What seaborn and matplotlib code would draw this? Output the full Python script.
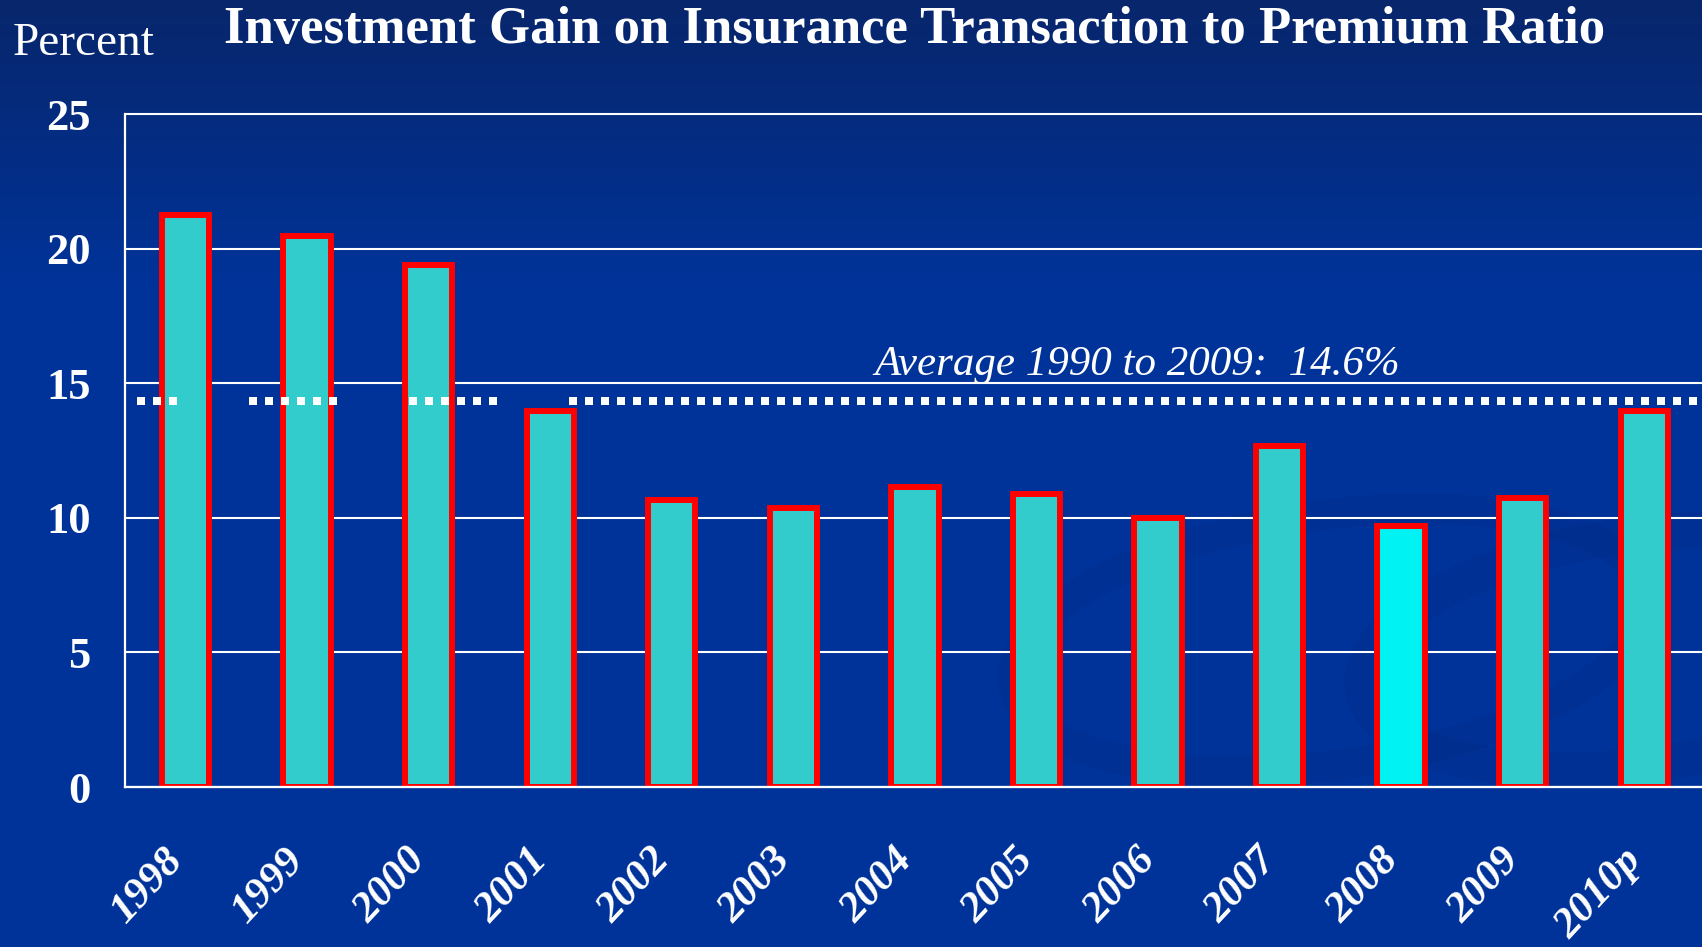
import numpy as np
import pandas as pd
import matplotlib
matplotlib.use("Agg")
import matplotlib.pyplot as plt
import matplotlib.transforms as mtransforms
from matplotlib.patches import Ellipse
import seaborn as sns

# data
years = ["1998", "1999", "2000", "2001", "2002", "2003", "2004",
         "2005", "2006", "2007", "2008", "2009", "2010p"]
ratios = [21.25, 20.45, 19.4, 13.95, 10.65, 10.35, 11.15,
          10.87, 9.98, 12.65, 9.68, 10.72, 13.97]
highlight_year = "2008"
avg_value = 14.35
avg_label = "Average 1990 to 2009:  14.6%"
y_ticks = [0, 5, 10, 15, 20, 25]

title = "Investment Gain on Insurance Transaction to Premium Ratio"

bar_color = "#33CCCC"
highlight_color = "#00F2F2"
bg_color = "#003399"

sns.set_style("white")
plt.rcParams["font.family"] = ["Liberation Serif", "DejaVu Serif"]

W, H = 1702, 947
fig = plt.figure(figsize=(W / 100, H / 100), dpi=100)
fig.patch.set_facecolor(bg_color)

# background gradient (darker at the top) plus faint swooshes
bg = fig.add_axes([0, 0, 1, 1], zorder=-10)
top = np.array([0.03, 0.15, 0.42])
mid = np.array([0.0, 0.20, 0.60])
t = np.clip(np.linspace(0, 1, 300) / 0.3, 0, 1)[:, None]
grad = (top * (1 - t) + mid * t)[:, None, :]
bg.imshow(grad, aspect="auto", extent=[0, W, 0, H])
swoosh = "#002c86"
bg.add_patch(Ellipse((1330, H - 640), 640, 250, angle=8, fill=False,
                     edgecolor=swoosh, linewidth=22, alpha=0.3))
bg.add_patch(Ellipse((1640, H - 650), 560, 230, angle=8, fill=False,
                     edgecolor=swoosh, linewidth=26, alpha=0.3))
bg.set_xlim(0, W)
bg.set_ylim(0, H)
bg.set_axis_off()

ax = fig.add_axes([124.8 / W, 160 / H, (1705 - 124.8) / W, 673 / H])
ax.set_facecolor("none")

df = pd.DataFrame({"Year": years, "Ratio": ratios})
palette = {y: (highlight_color if y == highlight_year else bar_color) for y in years}
sns.barplot(data=df, x="Year", y="Ratio", hue="Year", palette=palette,
            legend=False, width=0.39, edgecolor="#FF0000", linewidth=4.3,
            saturation=1, ax=ax, zorder=3)

ax.set_xlim(-0.5, 12.5)
ax.set_ylim(0, 25)
ax.set_yticks(y_ticks)
ax.set_xlabel("")
ax.set_ylabel("")

# gridlines
ax.set_axisbelow(True)
ax.yaxis.grid(True, color="white", linewidth=1.5)
for gl in ax.get_ygridlines():
    gl.set_clip_on(False)

for side in ["top", "right"]:
    ax.spines[side].set_visible(False)
for side in ["left", "bottom"]:
    ax.spines[side].set_color("white")
    ax.spines[side].set_linewidth(1.6)
    ax.spines[side].set_zorder(4)

# average line: grouped dots on the left, continuous further right
ax.axhline(avg_value, xmin=(137 - 124.8) / 1580, xmax=(569 - 124.8) / 1580,
           color="white", linewidth=5.76, zorder=5, dash_capstyle="butt",
           linestyle=(6, (1, 1, 1, 1, 1, 1, 1, 1, 1, 1, 1, 9)))
ax.axhline(avg_value, xmin=(569 - 124.8) / 1580, xmax=1,
           color="white", linewidth=5.76, zorder=5, dash_capstyle="butt",
           linestyle=(0, (1, 1)))

fig.text(1137 / W, 1 - 375 / H, avg_label, color="white", fontsize=31,
         style="italic", ha="center", va="baseline")

# ticks
ax.tick_params(axis="y", colors="white", length=11.5, width=1.5, pad=13,
               labelsize=32)
ax.set_xticks(np.arange(-0.5, 13, 1), minor=True)
ax.tick_params(axis="x", which="minor", colors="white", length=10, width=1.5)
ax.tick_params(axis="x", which="major", length=0, pad=39, labelsize=31,
               labelcolor="white")
for lab in ax.get_yticklabels():
    lab.set_fontweight("bold")
shift = mtransforms.ScaledTranslation(-16 / 72, 0, fig.dpi_scale_trans)
for lab in ax.get_xticklabels():
    lab.set_fontweight("bold")
    lab.set_fontstyle("italic")
    lab.set_rotation(47)
    lab.set_ha("right")
    lab.set_rotation_mode("anchor")
    lab.set_transform(lab.get_transform() + shift)

fig.text(914.5 / W, 1 - 43 / H, title, color="white", fontsize=38,
         fontweight="bold", ha="center", va="baseline")
fig.text(13 / W, 1 - 55 / H, "Percent", color="white", fontsize=34,
         ha="left", va="baseline")

fig.savefig("out.png", dpi=100, facecolor=fig.get_facecolor())
